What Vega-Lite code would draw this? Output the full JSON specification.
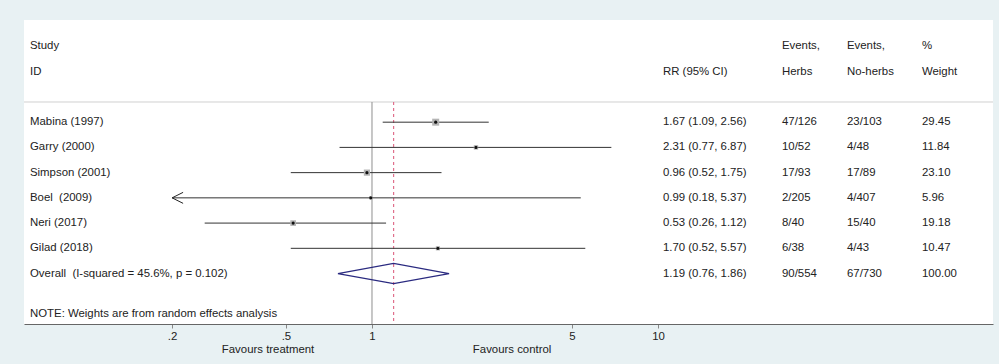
{
  "$schema": "https://vega.github.io/schema/vega-lite/v6.json",
  "width": 969,
  "height": 304,
  "autosize": {"type": "none"},
  "padding": {"left": 24, "top": 20, "right": 6, "bottom": 40},
  "background": "#e8f1f3",
  "view": {"fill": "#ffffff", "stroke": null},
  "config": {
    "font": "Liberation Sans",
    "text": {"font": "Liberation Sans", "fontSize": 11.4, "color": "#222222", "baseline": "middle", "align": "left"}
  },
  "datasets": {
    "studies": [
      {"study": "Mabina (1997)", "row": 0, "rr": 1.67, "lo": 1.09, "hi": 2.56, "ci": "1.67 (1.09, 2.56)", "herbs": "47/126", "noherbs": "23/103", "weight": 29.45, "type": "study"},
      {"study": "Garry (2000)", "row": 1, "rr": 2.31, "lo": 0.77, "hi": 6.87, "ci": "2.31 (0.77, 6.87)", "herbs": "10/52", "noherbs": "4/48", "weight": 11.84, "type": "study"},
      {"study": "Simpson (2001)", "row": 2, "rr": 0.96, "lo": 0.52, "hi": 1.75, "ci": "0.96 (0.52, 1.75)", "herbs": "17/93", "noherbs": "17/89", "weight": 23.10, "type": "study"},
      {"study": "Boel\u00a0 (2009)", "row": 3, "rr": 0.99, "lo": 0.18, "hi": 5.37, "ci": "0.99 (0.18, 5.37)", "herbs": "2/205", "noherbs": "4/407", "weight": 5.96, "type": "study"},
      {"study": "Neri (2017)", "row": 4, "rr": 0.53, "lo": 0.26, "hi": 1.12, "ci": "0.53 (0.26, 1.12)", "herbs": "8/40", "noherbs": "15/40", "weight": 19.18, "type": "study"},
      {"study": "Gilad (2018)", "row": 5, "rr": 1.70, "lo": 0.52, "hi": 5.57, "ci": "1.70 (0.52, 5.57)", "herbs": "6/38", "noherbs": "4/43", "weight": 10.47, "type": "study"},
      {"study": "Overall\u00a0 (I-squared = 45.6%, p = 0.102)", "row": 6, "rr": 1.19, "lo": 0.76, "hi": 1.86, "ci": "1.19 (0.76, 1.86)", "herbs": "90/554", "noherbs": "67/730", "weight": 100.00, "type": "overall"}
    ],
    "diamond": [
      {"x": 0.76, "y": 6, "o": 1},
      {"x": 1.19, "y": 5.6, "o": 2},
      {"x": 1.86, "y": 6, "o": 3},
      {"x": 1.19, "y": 6.4, "o": 4},
      {"x": 0.76, "y": 6, "o": 5}
    ]
  },
  "layer": [
    {
      "data": {"values": [{}]},
      "mark": {"type": "rule", "stroke": "#d0d0d0", "strokeWidth": 1},
      "encoding": {"y": {"datum": -0.8, "type": "quantitative", "scale": {"domain": [-4.05, 8], "reverse": true, "nice": false, "zero": false}, "axis": null}}
    },
    {
      "data": {"values": [{}]},
      "mark": {"type": "rule", "stroke": "#8f8f8f", "strokeWidth": 1},
      "encoding": {
        "x": {"datum": 1, "type": "quantitative"},
        "y": {"datum": -0.8, "type": "quantitative"},
        "y2": {"datum": 8}
      }
    },
    {
      "data": {"name": "studies"},
      "transform": [{"filter": "datum.type == 'overall'"}],
      "mark": {"type": "rule", "stroke": "#e0708c", "strokeWidth": 1.2, "strokeDash": [3, 3]},
      "encoding": {
        "x": {"field": "rr", "type": "quantitative"},
        "y": {"datum": -0.8, "type": "quantitative"},
        "y2": {"datum": 8}
      }
    },
    {
      "data": {"name": "studies"},
      "transform": [
        {"filter": "datum.type == 'study'"},
        {"calculate": "max(datum.lo, 0.2)", "as": "lo_shown"}
      ],
      "mark": {"type": "rule", "stroke": "#333333", "strokeWidth": 1},
      "encoding": {
        "x": {"field": "lo_shown", "type": "quantitative"},
        "x2": {"field": "hi"},
        "y": {"field": "row", "type": "quantitative"}
      }
    },
    {
      "data": {"name": "studies"},
      "transform": [{"filter": "datum.type == 'study' && datum.lo < 0.2"}],
      "mark": {"type": "point", "shape": "M 2 -1 L 0 0 L 2 1", "filled": false, "stroke": "#222222", "strokeWidth": 1, "size": 121, "opacity": 1},
      "encoding": {
        "x": {"datum": 0.2, "type": "quantitative"},
        "y": {"field": "row", "type": "quantitative"}
      }
    },
    {
      "data": {"name": "studies"},
      "transform": [{"filter": "datum.type == 'study'"}],
      "mark": {"type": "square", "color": "#b4b4b4", "opacity": 1, "filled": true},
      "encoding": {
        "x": {"field": "rr", "type": "quantitative"},
        "y": {"field": "row", "type": "quantitative"},
        "size": {"field": "weight", "type": "quantitative", "scale": {"domain": [0, 30], "range": [0, 50]}, "legend": null}
      }
    },
    {
      "data": {"name": "studies"},
      "transform": [{"filter": "datum.type == 'study'"}],
      "mark": {"type": "circle", "color": "#111111", "opacity": 1, "size": 10},
      "encoding": {
        "x": {"field": "rr", "type": "quantitative"},
        "y": {"field": "row", "type": "quantitative"}
      }
    },
    {
      "data": {"name": "diamond"},
      "mark": {"type": "line", "stroke": "#2a2a80", "strokeWidth": 1.2},
      "encoding": {
        "x": {"field": "x", "type": "quantitative"},
        "y": {"field": "y", "type": "quantitative"},
        "order": {"field": "o", "type": "quantitative"}
      }
    },
    {
      "data": {"name": "studies"},
      "mark": {"type": "text"},
      "encoding": {
        "x": {"datum": 0.0637, "type": "quantitative"},
        "y": {"field": "row", "type": "quantitative"},
        "text": {"field": "study"}
      }
    },
    {
      "data": {"name": "studies"},
      "mark": {"type": "text"},
      "encoding": {
        "x": {"datum": 10.41, "type": "quantitative"},
        "y": {"field": "row", "type": "quantitative"},
        "text": {"field": "ci"}
      }
    },
    {
      "data": {"name": "studies"},
      "mark": {"type": "text"},
      "encoding": {
        "x": {"datum": 27.14, "type": "quantitative"},
        "y": {"field": "row", "type": "quantitative"},
        "text": {"field": "herbs"}
      }
    },
    {
      "data": {"name": "studies"},
      "mark": {"type": "text"},
      "encoding": {
        "x": {"datum": 45.8, "type": "quantitative"},
        "y": {"field": "row", "type": "quantitative"},
        "text": {"field": "noherbs"}
      }
    },
    {
      "data": {"name": "studies"},
      "mark": {"type": "text"},
      "encoding": {
        "x": {"datum": 83.76, "type": "quantitative"},
        "y": {"field": "row", "type": "quantitative"},
        "text": {"field": "weight", "type": "quantitative", "format": ".2f"}
      }
    },
    {
      "data": {"values": [{"t": "Study", "row": -3}, {"t": "ID", "row": -2}]},
      "mark": {"type": "text"},
      "encoding": {
        "x": {"datum": 0.0637, "type": "quantitative"},
        "y": {"field": "row", "type": "quantitative"},
        "text": {"field": "t"}
      }
    },
    {
      "data": {"values": [{"t": "RR (95% CI)", "row": -2}]},
      "mark": {"type": "text"},
      "encoding": {
        "x": {"datum": 10.41, "type": "quantitative"},
        "y": {"field": "row", "type": "quantitative"},
        "text": {"field": "t"}
      }
    },
    {
      "data": {"values": [{"t": "Events,", "row": -3}, {"t": "Herbs", "row": -2}]},
      "mark": {"type": "text"},
      "encoding": {
        "x": {"datum": 27.14, "type": "quantitative"},
        "y": {"field": "row", "type": "quantitative"},
        "text": {"field": "t"}
      }
    },
    {
      "data": {"values": [{"t": "Events,", "row": -3}, {"t": "No-herbs", "row": -2}]},
      "mark": {"type": "text"},
      "encoding": {
        "x": {"datum": 45.8, "type": "quantitative"},
        "y": {"field": "row", "type": "quantitative"},
        "text": {"field": "t"}
      }
    },
    {
      "data": {"values": [{"t": "%", "row": -3}, {"t": "Weight", "row": -2}]},
      "mark": {"type": "text"},
      "encoding": {
        "x": {"datum": 83.76, "type": "quantitative"},
        "y": {"field": "row", "type": "quantitative"},
        "text": {"field": "t"}
      }
    },
    {
      "data": {"values": [{"t": "NOTE: Weights are from random effects analysis", "row": 7.6}]},
      "mark": {"type": "text"},
      "encoding": {
        "x": {"datum": 0.0637, "type": "quantitative"},
        "y": {"field": "row", "type": "quantitative"},
        "text": {"field": "t"}
      }
    },
    {
      "data": {"values": [{"t": "Favours treatment", "x": 0.433, "row": 9.05}, {"t": "Favours control", "x": 3.09, "row": 9.05}]},
      "mark": {"type": "text", "align": "center"},
      "encoding": {
        "x": {"field": "x", "type": "quantitative"},
        "y": {"field": "row", "type": "quantitative"},
        "text": {"field": "t"}
      }
    }
  ],
  "encoding": {
    "x": {
      "type": "quantitative",
      "scale": {"type": "log", "domain": [0.0607, 148.4], "nice": false},
      "axis": {
        "values": [0.2, 0.5, 1, 5, 10],
        "labelExpr": "datum.value == 0.2 ? '.2' : datum.value == 0.5 ? '.5' : toString(datum.value)",
        "grid": false,
        "title": null,
        "domainColor": "#666666",
        "tickColor": "#888888",
        "tickSize": 4,
        "labelPadding": 2,
        "labelFont": "Liberation Sans",
        "labelFontSize": 11.4,
        "labelColor": "#222222",
        "labelFlush": false
      }
    }
  },
  "resolve": {"scale": {"x": "shared", "y": "shared"}}
}
